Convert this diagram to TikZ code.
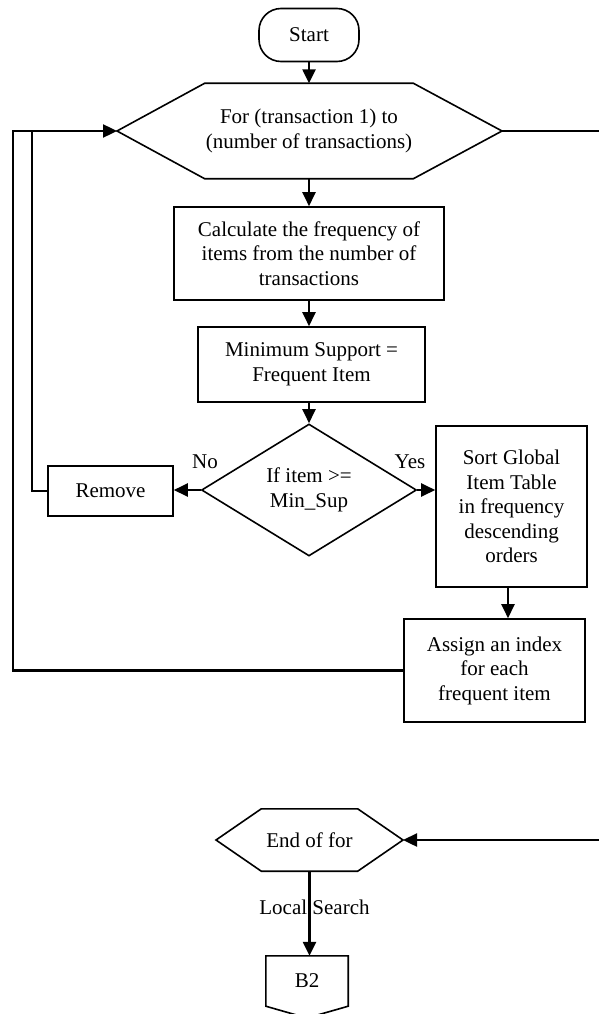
\documentclass[tikz,border=0pt]{standalone}
\usepackage{fontspec}
\setmainfont{Liberation Serif}
\usetikzlibrary{arrows.meta,shapes.geometric}

\begin{document}
\begin{tikzpicture}[x=1pt,y=-1pt,>={Triangle[length=14pt,width=13pt]},line width=2.4pt,
    font=\fontsize{21pt}{24.5pt}\selectfont,
    box/.style={draw,line width=1.6pt,align=center,inner sep=2pt},
    frame/.style={line width=1.6pt},
    hexbody/.style={align=center,inner sep=0pt},
    decision/.style={draw,diamond,line width=1.6pt,align=center,inner sep=0pt,aspect=1.63}]
  \useasboundingbox (0,0) rectangle (598,1014);
  \coordinate (loopW) at (117,131);
  \coordinate (loopE) at (502,131);
  \coordinate (endW) at (216,840);
  \coordinate (endE) at (403,840);
  \coordinate (outer) at (13,131);
  \coordinate (inner) at (32,131);
  \coordinate (rim) at (600,131);
  \coordinate (b2tip) at (307,1018);
  \node[box,rounded corners=22pt,minimum width=100pt,minimum height=53pt] (start) at (309,35) {Start};
  \node[hexbody,minimum width=194pt,minimum height=93pt] (loop) at (309,131) {For (transaction 1) to\\(number of transactions)};
  \draw[frame] (loop.north west) -- (loop.north east) -- (loopE) -- (loop.south east) -- (loop.south west) -- (loopW) -- cycle;
  \node[box,minimum width=270pt,minimum height=93pt] (calc) at (309,253.5) {Calculate the frequency of\\items from the number of\\transactions};
  \node[box,minimum width=227pt,minimum height=75pt] (minsup) at (311.5,364.5) {Minimum Support =\\Frequent Item};
  \node[decision,minimum width=215pt,minimum height=132pt] (test) at (309,490) {If item >=\\Min\_Sup};
  \node[box,minimum width=125pt,minimum height=50pt] (remove) at (110.5,491) {Remove};
  \node[box,minimum width=151pt,minimum height=161pt] (sort) at (511.5,506.5) {Sort Global\\Item Table\\in frequency\\descending\\orders};
  \node[box,minimum width=181pt,minimum height=103pt] (assign) at (494.5,670.5) {Assign an index\\for each\\frequent item};
  \node (no) at (205,462) {No};
  \node (yes) at (410,462) {Yes};
  \node[hexbody,minimum width=94pt,minimum height=60pt] (endfor) at (309.5,840) {End of for};
  \draw[frame] (endfor.north west) -- (endfor.north east) -- (endE) -- (endfor.south east) -- (endfor.south west) -- (endW) -- cycle;
  \node[hexbody,minimum width=80pt,minimum height=48pt] (b2) at (307,981) {B2};
  \draw[frame] (b2.north west) -- (b2.north east) -- (b2.south east) -- (b2tip) -- (b2.south west) -- cycle;
  % main flow
  \draw[->] (start) -- (loop);
  \draw[->] (loop) -- (calc);
  \draw[->] (calc.south) -- (calc.south |- minsup.north);
  \draw[->] (test.north |- minsup.south) -- (test.north);
  \draw[->] (test.west) -- (test.west -| remove.east);
  \draw[->] (test.east) -- (test.east -| sort.west);
  \draw[->] ([xshift=-3.5pt]sort.south) -- ([xshift=-3.5pt]sort.south |- assign.north);
  % loops back
  \draw[->] (assign.west) -| (outer) -- (loopW);
  \draw (remove.west) -| (inner);
  \draw[->] (loopE) -- (rim) |- (endE);
  \draw[->] (endfor.south) -- (endfor.south |- b2.north) node[pos=0.43,xshift=5pt] (search) {Local Search};
\end{tikzpicture}
\end{document}
